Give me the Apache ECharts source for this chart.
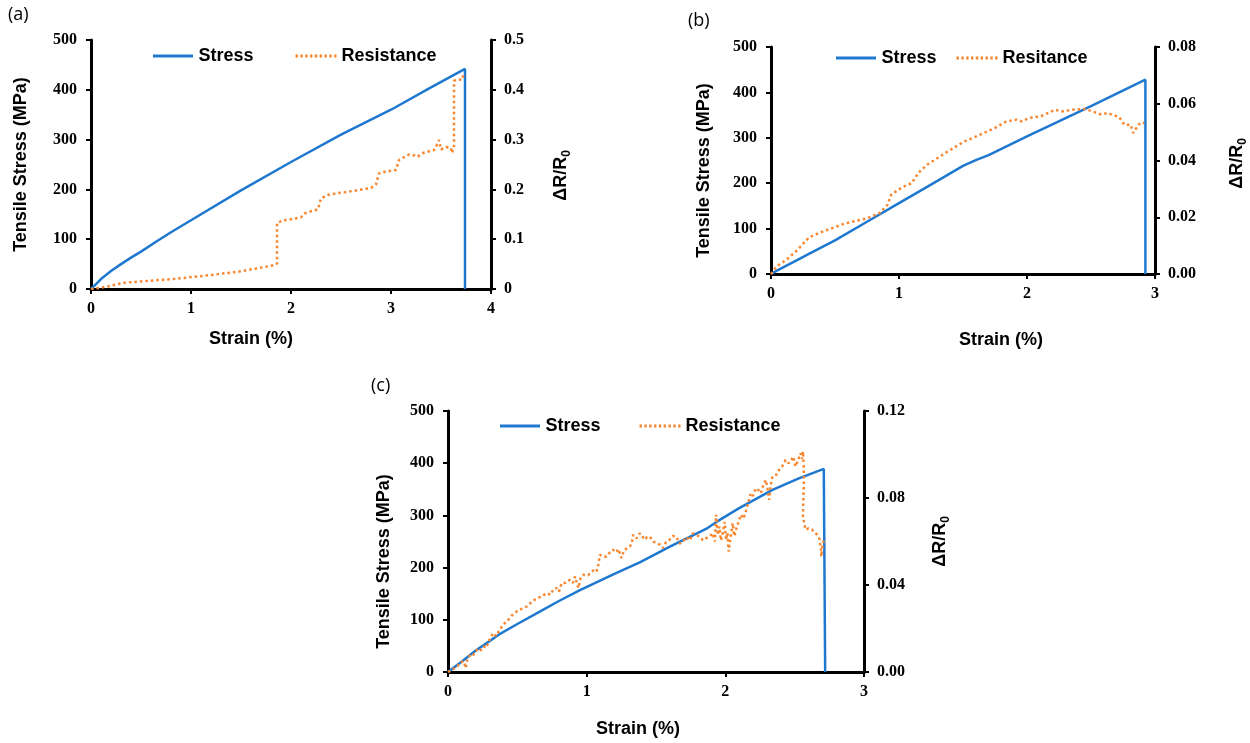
<!DOCTYPE html>
<html>
<head>
<meta charset="utf-8">
<script src="https://cdn.jsdelivr.net/npm/echarts@6/dist/echarts.min.js"></script>
<style>
  html, body { margin: 0; padding: 0; background: #fff; }
  #main { width: 1250px; height: 743px; }
</style>
</head>
<body>
<div id="main"></div>
<script>
// ---- data: [strain %, value] ----
const stressA = [[0,0],[0.05,10],[0.1,20],[0.2,36],[0.3,50],[0.4,63],[0.5,75],[0.65,95],[0.8,114],[1.0,138],[1.5,198],[2.0,255],[2.5,310],[3.0,360],[3.4,405],[3.74,442],[3.74,0]];
const resistA = [[0,0],[0.08,0.002],[0.16,0.005],[0.25,0.009],[0.32,0.012],[0.35,0.013],[0.49,0.015],[0.82,0.02],[1.15,0.027],[1.48,0.035],[1.65,0.041],[1.81,0.047],[1.86,0.051],[1.86,0.09],[1.86,0.133],[1.93,0.138],[2.0,0.14],[2.1,0.144],[2.14,0.152],[2.2,0.156],[2.27,0.16],[2.3,0.182],[2.37,0.189],[2.45,0.192],[2.53,0.194],[2.65,0.198],[2.8,0.203],[2.85,0.21],[2.88,0.232],[2.95,0.236],[3.05,0.239],[3.08,0.259],[3.105,0.262],[3.12,0.265],[3.18,0.27],[3.24,0.268],[3.27,0.266],[3.3,0.272],[3.35,0.275],[3.43,0.279],[3.46,0.29],[3.48,0.299],[3.5,0.28],[3.55,0.285],[3.6,0.283],[3.61,0.273],[3.63,0.286],[3.63,0.35],[3.63,0.418],[3.66,0.421],[3.71,0.42],[3.72,0.427],[3.74,0.432]];

const stressB = [[0,0],[0.05,8],[0.2,30],[0.3,45],[0.5,74],[0.75,115],[1.0,156],[1.25,197],[1.5,238],[1.6,251],[1.7,262],[2.0,303],[2.5,370],[2.925,428],[2.925,0]];
const resistB = [[0,0],[0.045,0.0027],[0.12,0.005],[0.21,0.0086],[0.257,0.011],[0.3,0.013],[0.39,0.0147],[0.57,0.0177],[0.755,0.0197],[0.85,0.0215],[0.91,0.0244],[0.94,0.028],[1.03,0.0307],[1.1,0.032],[1.15,0.0356],[1.22,0.0385],[1.36,0.0426],[1.51,0.0467],[1.63,0.049],[1.75,0.0515],[1.84,0.0538],[1.92,0.0544],[1.96,0.0538],[2.02,0.055],[2.11,0.0556],[2.22,0.0579],[2.27,0.0573],[2.36,0.0579],[2.45,0.0582],[2.51,0.0573],[2.58,0.0562],[2.63,0.0567],[2.72,0.0553],[2.76,0.0526],[2.81,0.0526],[2.83,0.0497],[2.87,0.0526],[2.9,0.0535],[2.915,0.0532]];

const stressC = [[0,0],[0.1,20],[0.2,41],[0.366,71.5],[0.5,92],[0.665,116],[0.8,136],[0.952,157],[1.2,188],[1.383,210],[1.6,240],[1.861,274],[1.933,287],[2.1,314],[2.34,349],[2.53,371],[2.71,389],[2.72,389],[2.72,0]];
const resistC = [[0,0],[0.03,0.001],[0.067,0.0026],[0.09,0.0045],[0.115,0.0049],[0.127,0.0018],[0.14,0.006],[0.163,0.008],[0.18,0.0075],[0.21,0.0103],[0.23,0.0095],[0.258,0.0118],[0.275,0.011],[0.294,0.0141],[0.31,0.0165],[0.33,0.0179],[0.345,0.0165],[0.366,0.0187],[0.39,0.021],[0.41,0.0225],[0.426,0.0233],[0.46,0.026],[0.498,0.0279],[0.53,0.029],[0.569,0.0302],[0.6,0.032],[0.641,0.034],[0.67,0.0345],[0.713,0.0363],[0.74,0.0355],[0.76,0.038],[0.785,0.0386],[0.8,0.037],[0.82,0.0409],[0.85,0.041],[0.88,0.0424],[0.9,0.041],[0.916,0.0439],[0.94,0.0386],[0.955,0.043],[0.976,0.0447],[1.01,0.0445],[1.048,0.0467],[1.07,0.046],[1.084,0.0493],[1.096,0.0539],[1.12,0.053],[1.144,0.0531],[1.16,0.0545],[1.191,0.0562],[1.21,0.055],[1.23,0.0565],[1.251,0.0524],[1.27,0.056],[1.311,0.0577],[1.325,0.059],[1.335,0.0631],[1.36,0.0615],[1.383,0.0638],[1.4,0.0625],[1.419,0.0608],[1.435,0.062],[1.455,0.0623],[1.48,0.06],[1.502,0.0593],[1.53,0.0585],[1.55,0.057],[1.57,0.0595],[1.598,0.0608],[1.62,0.0625],[1.646,0.0623],[1.67,0.059],[1.694,0.06],[1.72,0.062],[1.745,0.0605],[1.766,0.0638],[1.79,0.063],[1.813,0.0623],[1.84,0.0605],[1.861,0.0615],[1.89,0.0625],[1.909,0.0638],[1.925,0.06],[1.933,0.0723],[1.945,0.063],[1.957,0.0669],[1.968,0.0605],[1.981,0.0638],[1.995,0.069],[2.005,0.0608],[2.015,0.064],[2.024,0.0554],[2.04,0.063],[2.053,0.0684],[2.065,0.0625],[2.077,0.0654],[2.095,0.069],[2.112,0.0723],[2.13,0.0705],[2.148,0.0738],[2.165,0.078],[2.184,0.0822],[2.2,0.081],[2.22,0.0845],[2.24,0.0835],[2.256,0.0822],[2.275,0.086],[2.292,0.0883],[2.305,0.084],[2.316,0.0792],[2.33,0.087],[2.34,0.0899],[2.365,0.0905],[2.388,0.0929],[2.41,0.0945],[2.435,0.0975],[2.455,0.096],[2.471,0.0968],[2.49,0.099],[2.507,0.0945],[2.525,0.0975],[2.543,0.1006],[2.553,0.098],[2.56,0.1014],[2.565,0.095],[2.567,0.0883],[2.563,0.08],[2.56,0.0715],[2.57,0.068],[2.579,0.0654],[2.6,0.066],[2.627,0.0654],[2.645,0.064],[2.663,0.0631],[2.68,0.061],[2.689,0.0562],[2.692,0.0531],[2.7,0.0575],[2.71,0.0608]];

const panelLabels = ['(a)', '(b)', '(c)'];
const legendNamesA = ['Stress', 'Resistance'];
const legendNamesB = ['Stress', 'Resitance'];
const xMaxes = [4, 3, 3];
const rMaxes = [0.5, 0.08, 0.12];
const rIntervals = [0.1, 0.02, 0.04];

const BLUE = '#1f78cf';
const ORANGE = '#f7862f';
const serif = 'Liberation Serif';
const sans = 'Liberation Sans';

const grids = [
  { left: 91, top: 40, width: 400, height: 249 },
  { left: 771, top: 47, width: 386, height: 227 },
  { left: 448, top: 411, width: 416, height: 261 }
];

// axis-title placement per panel (gaps from axis, padding shifts along the axis)
const xNameGap = [41, 57, 48];
const xNamePad = [[0, 80, 0, 0], [0, 0, 0, 76], [0, 36, 0, 0]];
const yNameGap = [61, 58, 55];
const yNamePad = [[0, 0, 0, 0], [0, 20, 0, 0], [0, 40, 0, 0]];
const rNameGap = [58, 70, 64];
const rNamePad = [[0, 22, 0, 0], [0, 6, 0, 0], [0, 0, 0, 0]];

const axLine = { show: true, lineStyle: { color: '#000', width: 3 } };
const axTick = { show: true, inside: false, length: 5, lineStyle: { color: '#000', width: 2 } };
const tickFont = { color: '#000', fontFamily: serif, fontWeight: 'bold', fontSize: 16 };
const titleFont = { color: '#000', fontFamily: sans, fontWeight: 'bold', fontSize: 18 };

const xAxes = grids.map((g, i) => ({
  type: 'value', gridIndex: i, min: 0, max: xMaxes[i], interval: 1,
  name: 'Strain (%)', nameLocation: 'middle', nameGap: xNameGap[i],
  nameTextStyle: Object.assign({ padding: xNamePad[i] }, titleFont),
  axisLine: axLine, axisTick: axTick,
  axisLabel: Object.assign({ margin: 12 }, tickFont),
  splitLine: { show: false }
}));

const yAxes = [];
grids.forEach((g, i) => {
  yAxes.push({
    type: 'value', gridIndex: i, position: 'left', min: 0, max: 500, interval: 100,
    name: 'Tensile Stress (MPa)', nameLocation: 'middle', nameGap: yNameGap[i],
    nameTextStyle: Object.assign({ padding: yNamePad[i] }, titleFont),
    axisLine: axLine, axisTick: axTick,
    axisLabel: Object.assign({ margin: 14 }, tickFont),
    splitLine: { show: false }
  });
  yAxes.push({
    type: 'value', gridIndex: i, position: 'right', min: 0, max: rMaxes[i], interval: rIntervals[i],
    name: '{m|ΔR/R}{s|0}', nameLocation: 'middle', nameGap: rNameGap[i], nameRotate: 90,
    nameTextStyle: {
      padding: rNamePad[i],
      rich: {
        m: { fontFamily: sans, fontWeight: 'bold', fontSize: 18, color: '#000', lineHeight: 24, verticalAlign: 'middle' },
        s: { fontFamily: sans, fontWeight: 'bold', fontSize: 12, color: '#000', lineHeight: 24, verticalAlign: 'bottom' }
      }
    },
    axisLine: axLine, axisTick: axTick,
    axisLabel: Object.assign({
      margin: 13,
      formatter: i === 0 ? (v => String(+v.toFixed(1))) : (v => v.toFixed(2))
    }, tickFont),
    splitLine: { show: false }
  });
});

function stressSeries(i, data) {
  return {
    name: 'Stress', type: 'line', xAxisIndex: i, yAxisIndex: i * 2, data: data,
    symbol: 'none', smooth: false, z: 2,
    lineStyle: { color: BLUE, width: 2.5 }, itemStyle: { color: BLUE }
  };
}
function resistSeries(i, name, data) {
  return {
    name: name, type: 'line', xAxisIndex: i, yAxisIndex: i * 2 + 1, data: data,
    symbol: 'none', smooth: false, z: 3,
    lineStyle: { color: ORANGE, width: 2.5, type: [2.5, 3] }, itemStyle: { color: ORANGE }
  };
}

// legend icons: a solid bar and a row of small dots
const solidIcon = 'path://M0,0h40v3h-40z';
const dotIcon = 'path://M0,0h2.5v3h-2.5z M5,0h2.5v3h-2.5z M10,0h2.5v3h-2.5z M15,0h2.5v3h-2.5z M20,0h2.5v3h-2.5z M25,0h2.5v3h-2.5z M30,0h2.5v3h-2.5z M35,0h2.5v3h-2.5z M40,0h2.5v3h-2.5z';
const legendText = { color: '#000', fontFamily: sans, fontWeight: 'bold', fontSize: 18 };
function makeLegend(names, left, top, gap) {
  return {
    data: [{ name: names[0], icon: solidIcon }, { name: names[1], icon: dotIcon }],
    left: left, top: top, padding: 0, itemWidth: 41, itemHeight: 3, itemGap: gap,
    textStyle: legendText
  };
}

const option = {
  animation: false,
  backgroundColor: '#fff',
  grid: grids,
  xAxis: xAxes,
  yAxis: yAxes,
  legend: [
    makeLegend(legendNamesA, 153, 47, 42),
    makeLegend(legendNamesB, 836, 49, 20),
    makeLegend(legendNamesA, 500, 417, 39)
  ],
  graphic: [
    { type: 'text', left: 8, top: 6, style: { text: panelLabels[0], font: '18px "Open Sans"', fill: '#000' } },
    { type: 'text', left: 688, top: 12, style: { text: panelLabels[1], font: '18px "Open Sans"', fill: '#000' } },
    { type: 'text', left: 371, top: 377, style: { text: panelLabels[2], font: '18px "Open Sans"', fill: '#000' } }
  ],
  series: [
    stressSeries(0, stressA), resistSeries(0, 'Resistance', resistA),
    stressSeries(1, stressB), resistSeries(1, 'Resitance', resistB),
    stressSeries(2, stressC), resistSeries(2, 'Resistance', resistC)
  ]
};

const myChart = echarts.init(document.getElementById('main'));
myChart.setOption(option);
window.onresize = function () { myChart.resize(); };
</script>
</body>
</html>
